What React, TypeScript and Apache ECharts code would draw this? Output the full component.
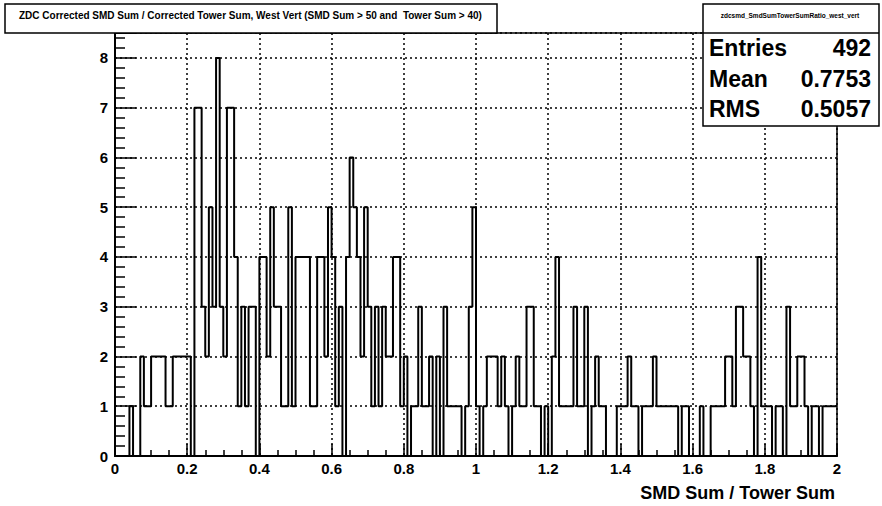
import React, { useEffect, useRef } from "react";
import * as echarts from "echarts";

// Histogram: 200 bins of width 0.01 from 0 to 2
const binWidth = 0.01;
const xMin = 0;
const xMax = 2;
const binCounts = [
  0, 0, 0, 0, 1, 0, 0, 2, 1, 1,
  2, 2, 2, 2, 1, 1, 2, 2, 2, 2,
  2, 0, 7, 7, 3, 2, 5, 3, 8, 3,
  2, 7, 7, 4, 1, 3, 1, 3, 3, 0,
  4, 4, 2, 5, 3, 3, 1, 1, 5, 1,
  4, 4, 4, 4, 1, 1, 4, 4, 2, 5,
  4, 1, 3, 0, 4, 6, 5, 4, 2, 5,
  3, 1, 3, 1, 3, 2, 2, 4, 4, 1,
  2, 0, 1, 1, 3, 1, 1, 2, 0, 2,
  0, 3, 1, 1, 1, 1, 0, 1, 3, 5,
  1, 0, 1, 2, 2, 2, 1, 2, 1, 0,
  1, 2, 1, 1, 3, 3, 1, 1, 0, 1,
  0, 2, 4, 1, 1, 1, 1, 3, 1, 1,
  3, 0, 1, 2, 1, 1, 0, 0, 0, 1,
  1, 1, 2, 1, 1, 0, 1, 1, 1, 2,
  1, 1, 1, 1, 1, 1, 0, 1, 1, 0,
  0, 0, 1, 0, 0, 1, 1, 1, 1, 2,
  2, 1, 3, 3, 2, 2, 1, 0, 4, 1,
  1, 1, 0, 1, 1, 0, 3, 1, 1, 2,
  2, 1, 0, 1, 1, 0, 1, 1, 1, 1,
];

const titleText =
  "ZDC Corrected SMD Sum / Corrected Tower Sum, West Vert (SMD Sum > 50 and  Tower Sum > 40)";
const statsName = "zdcsmd_SmdSumTowerSumRatio_west_vert";
const statsLabels = ["Entries", "Mean", "RMS"];
const statsValues = ["492", "0.7753", "0.5057"];
const xAxisTitle = "SMD Sum / Tower Sum";

const FONT = '"Liberation Sans", Arial, Helvetica, sans-serif';

export default function App() {
  const ref = useRef<HTMLDivElement>(null);

  useEffect(() => {
    if (!ref.current) return;
    const chart = echarts.init(ref.current, null, { renderer: "svg" });

    const stepData: number[][] = binCounts.map((c, i) => [
      +(xMin + i * binWidth).toFixed(2),
      c,
    ]);
    stepData.push([xMax, binCounts[binCounts.length - 1]]);

    const statRowsY = [48, 79, 109];

    const graphics: any[] = [
      {
        type: "rect",
        z: 100,
        shape: { x: 5, y: 4, width: 492, height: 29 },
        style: { fill: "#fff", stroke: "#000", lineWidth: 1.5 },
      },
      {
        type: "text",
        z: 101,
        x: 19,
        y: 15,
        style: {
          text: titleText,
          font: `bold 10px ${FONT}`,
          fill: "#000",
          textAlign: "left",
          textVerticalAlign: "middle",
        },
      },
      {
        type: "rect",
        z: 100,
        shape: { x: 703, y: 4, width: 176, height: 122 },
        style: { fill: "#fff", stroke: "#000", lineWidth: 1.5 },
      },
      {
        type: "line",
        z: 101,
        shape: { x1: 703, y1: 33, x2: 879, y2: 33 },
        style: { stroke: "#000", lineWidth: 1.5 },
      },
      {
        type: "text",
        z: 101,
        x: 790,
        y: 15,
        style: {
          text: statsName,
          font: `bold 6.5px ${FONT}`,
          fill: "#000",
          textAlign: "center",
          textVerticalAlign: "middle",
        },
      },
      {
        type: "text",
        z: 101,
        x: 835,
        y: 493,
        style: {
          text: xAxisTitle,
          font: `bold 18px ${FONT}`,
          fill: "#000",
          textAlign: "right",
          textVerticalAlign: "middle",
        },
      },
    ];
    statsLabels.forEach((lab, i) => {
      graphics.push({
        type: "text",
        z: 101,
        x: 709,
        y: statRowsY[i],
        style: {
          text: lab,
          font: `bold 23px ${FONT}`,
          fill: "#000",
          textAlign: "left",
          textVerticalAlign: "middle",
        },
      });
      graphics.push({
        type: "text",
        z: 101,
        x: 871,
        y: statRowsY[i],
        style: {
          text: statsValues[i],
          font: `bold 23px ${FONT}`,
          fill: "#000",
          textAlign: "right",
          textVerticalAlign: "middle",
        },
      });
    });

    const option: any = {
      animation: false,
      backgroundColor: "#fff",
      grid: {
        left: 115,
        right: 45,
        top: 33,
        bottom: 50,
        show: true,
        borderColor: "#000",
        borderWidth: 1.5,
        backgroundColor: "transparent",
      },
      xAxis: {
        type: "value",
        min: xMin,
        max: xMax,
        interval: 0.2,
        axisLine: { show: true, onZero: false, lineStyle: { color: "#000", width: 2 } },
        axisTick: { show: true, inside: true, length: 12, lineStyle: { color: "#000", width: 1.5 } },
        minorTick: { show: true, splitNumber: 4, length: 6, lineStyle: { color: "#000", width: 1.5 } },
        splitLine: { show: true, lineStyle: { color: "#000", width: 1.5, type: [2, 3] } },
        axisLabel: {
          color: "#000",
          fontFamily: FONT,
          fontWeight: "bold",
          fontSize: 15,
          margin: 5,
          formatter: (v: number) => String(parseFloat(v.toFixed(1))),
        },
      },
      yAxis: {
        type: "value",
        min: 0,
        max: 8.5,
        interval: 1,
        axisLine: { show: true, onZero: false, lineStyle: { color: "#000", width: 2 } },
        axisTick: { show: true, inside: true, length: 21, lineStyle: { color: "#000", width: 1.5 } },
        minorTick: { show: true, splitNumber: 5, length: 10, lineStyle: { color: "#000", width: 1.5 } },
        splitLine: { show: true, lineStyle: { color: "#000", width: 1.5, type: [2, 3] } },
        axisLabel: {
          color: "#000",
          fontFamily: FONT,
          fontWeight: "bold",
          fontSize: 15,
          margin: 7,
          formatter: (v: number) => (Number.isInteger(v) ? String(v) : ""),
        },
      },
      series: [
        {
          type: "line",
          step: "end",
          data: stepData,
          symbol: "none",
          showSymbol: false,
          silent: true,
          lineStyle: { color: "#000", width: 2 },
        },
      ],
      graphic: graphics,
    };

    chart.setOption(option);
    return () => chart.dispose();
  }, []);

  return (
    <div
      ref={ref}
      style={{ position: "fixed", left: 0, top: 0, width: 882, height: 506, background: "#fff" }}
    />
  );
}
